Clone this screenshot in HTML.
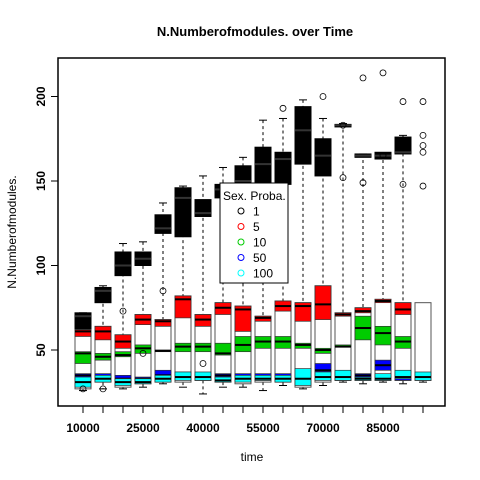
<!DOCTYPE html>
<html><head><meta charset="utf-8"><style>
body{margin:0;background:#fff}
svg{display:block;font-family:"Liberation Sans",sans-serif}
</style></head><body>
<svg id="c" width="480" height="480" xmlns="http://www.w3.org/2000/svg">
<text x="255" y="36" text-anchor="middle" font-size="13" font-weight="bold">N.Numberofmodules. over Time</text>
<text x="252" y="461" text-anchor="middle" font-size="12">time</text>
<text transform="translate(16,232) rotate(-90)" text-anchor="middle" font-size="12">N.Numberofmodules.</text>
<g id="marks"></g>
<rect x="58" y="58" width="387" height="348" fill="none" stroke="#000" stroke-width="1.5"/>
<g id="axes"></g>
<g>
<rect x="220" y="183" width="68" height="100" fill="#fff" stroke="#000" stroke-width="1"/>
<text x="223" y="200" font-size="12">Sex. Proba.</text>
<g id="leg"></g>
</g>
</svg>
<script>
const groups=["10000","15000","20000","25000","30000","35000","40000","45000","50000","55000","60000","65000","70000","75000","80000","85000","90000","95000"];
const xTickLabels=["10000","25000","40000","55000","70000","85000"];
const xTickLabelIdx=[0,3,6,9,12,15];
const yTicks=[50,100,150,200];
const seriesNames=["1","5","10","50","100"];
const seriesColors=["#000","#f00","#0c0","#00f","#0ff"];
// black (1) series
const s1Q1=[60,78,94,100,119,117,129,140,142,145,148,160,153,182,164,163,166,null];
const s1Med=[70,85,100,104,122,140,131,145,150,160,163,180,165,183,165,165,167,null];
const s1Q3=[72,87,108,108,130,146,139,148,159,170,167,194,175,183.5,166,167,176,null];
const s1Lo=[60,70,70,70,70,117,126,139,80,80,80,153,85,182,165,165,166,null];
const s1Hi=[72,88,113,114,137,147,153,158,164,186,187,198,187,184,166,166,177,null];
// red (5)
const s5Q1=[58,56,51,65,64,69,64,71,61,67,73,67,68,70,72,78,71,null];
const s5Med=[61,61,55,68,67,80,68,75,74,69,76,76,77,71,73,79,74,null];
const s5Q3=[62,64,59,71,68,82,71,78,76,70,79,78,88,72,75,80,78,null];
// green (10)
const s10Q1=[42,44,46,48,49,49,49,47,49,51,51,51,48,52,56,53,51,null];
const s10Med=[48,46,47,51,49.5,52,52,48,53,55,55,53,50,52,63,60,55,null];
const s10Q3=[49,48,49,53,50,54,54,54,58,58,58,54,51,53,70,64,58,null];
// blue (50)
const s50Q1=[33,32,31,32,33,34,33,34,32,32,32,33,37,32,33,38,32,null];
const s50Med=[35,34,33,33,35,36,35,35,34,34,34,34,38,34,35,41,34,null];
const s50Q3=[36,36,35,34,38,37,36,36,36,36,36,35,42,37,36,44,35,null];
// cyan (100)
const s100Q1=[28,31,29,30,31,32,32,31,31,32,31,29,32,32,32,32,33,32];
const s100Med=[31,33,31,31,33,34,34,32,33,33,33,33,34,34,33,33,34,34];
const s100Q3=[34,35,33,33,35,37,37,34,35,35,35,39,37,38,34,36,38,37];
// overall white envelope per group
const envLo=[27,31,28,30,31,31,32,31,30,31,31,28,31,32,32,32,32,32];
const envHi=[62,64,59,71,68,82,71,78,76,70,79,78,88,72,75,80,78,78];
const whiskLo=[26,27,27,28,30,28,24,28,28,26,29,27,29,31,30,31,30,31];
const outX=[0,1,2,4,10,12,13,13,14,14,15,15,16,16,17,17,17,17,17,6,3];
const outY=[27,27,73,85,193,200,152,183,211,149,214,165,197,148,197,177,171,167,147,42,48];
const boxSets=[[s1Q1,s1Med,s1Q3],[s5Q1,s5Med,s5Q3],[s10Q1,s10Med,s10Q3],[s50Q1,s50Med,s50Q3],[s100Q1,s100Med,s100Q3]];

const NS="http://www.w3.org/2000/svg";
function X(i){return 83+i*20.0;}
function Y(v){return 350-(v-50)*1.69;}
function mk(tag,attrs,parent){const e=document.createElementNS(NS,tag);for(const k in attrs)e.setAttribute(k,attrs[k]);parent.appendChild(e);return e;}
const marks=document.getElementById('marks');
const hw=8;
groups.forEach((g,i)=>{
  const x=X(i);
  if(s1Hi[i]!=null){
    const w=mk('line',{x1:x,x2:x,y1:Y(s1Hi[i]),y2:Y(envHi[i]),stroke:'#000','stroke-dasharray':'3,3'},marks);
    
    
    const c=mk('line',{x1:x-4,x2:x+4,y1:Y(s1Hi[i]),y2:Y(s1Hi[i]),stroke:'#000'},marks);
    
    
  }
  const wl=mk('line',{x1:x,x2:x,y1:Y(envLo[i]),y2:Y(whiskLo[i]),stroke:'#000','stroke-dasharray':'3,3'},marks);
  
  
  const cl=mk('line',{x1:x-4,x2:x+4,y1:Y(whiskLo[i]),y2:Y(whiskLo[i]),stroke:'#000'},marks);
  
  
  if(s1Q3[i]!=null){
    const b=mk('rect',{x:x-hw,y:Y(s1Q3[i]),width:hw*2,height:Math.max(2,Y(s1Q1[i])-Y(s1Q3[i])),fill:'#000',stroke:'#000'},marks);
    
    
  }
  const env=mk('rect',{x:x-hw,y:Y(envHi[i]),width:hw*2,height:Y(envLo[i])-Y(envHi[i]),fill:'#fff',stroke:'#555'},marks);
  
  
  for(let s=1;s<5;s++){
    const [q1,md,q3]=boxSets[s];
    if(q3[i]==null)continue;
    const r=mk('rect',{x:x-hw,y:Y(q3[i]),width:hw*2,height:Y(q1[i])-Y(q3[i]),fill:seriesColors[s],stroke:'#333','stroke-width':0.7},marks);
    
    
    const m=mk('line',{x1:x-hw,x2:x+hw,y1:Y(md[i]),y2:Y(md[i]),stroke:'#000','stroke-width':2},marks);
    
    
  }
  if(s1Med[i]!=null){
    const m=mk('line',{x1:x-hw,x2:x+hw,y1:Y(s1Med[i]),y2:Y(s1Med[i]),stroke:'#333','stroke-width':2},marks);
    
    
  }
});
outX.forEach((gi,k)=>{
  const o=mk('circle',{cx:X(gi),cy:Y(outY[k]),r:3,fill:'none',stroke:'#000','stroke-width':0.8},marks);
  
  
});
const axes=document.getElementById('axes');
groups.forEach((g,i)=>{
  const t=mk('line',{x1:X(i),x2:X(i),y1:406,y2:413,stroke:'#000'},axes);
  
  
});
xTickLabels.forEach((l,k)=>{
  const t=mk('text',{x:X(xTickLabelIdx[k]),y:432,'text-anchor':'middle','font-size':12,'font-weight':'bold'},axes);
  t.textContent=l;
  
  
});
yTicks.forEach(v=>{
  const t=mk('line',{x1:51,x2:58,y1:Y(v),y2:Y(v),stroke:'#000'},axes);
  
  
  const l=mk('text',{transform:`translate(45,${Y(v)}) rotate(-90)`,'text-anchor':'middle','font-size':12,'font-weight':'bold'},axes);
  l.textContent=v;
  
  
});
const leg=document.getElementById('leg');
seriesNames.forEach((n,k)=>{
  const y=211+k*15.5;
  const c=mk('circle',{cx:241,cy:y,r:3,fill:'none',stroke:seriesColors[k]},leg);
  
  
  const t=mk('text',{x:253,y:y+4.5,'font-size':12},leg);
  t.textContent=n;
  
  
});
</script>
</body></html>
